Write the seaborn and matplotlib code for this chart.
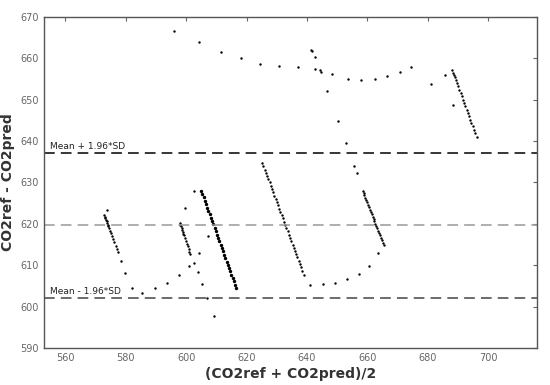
import numpy as np
import pandas as pd
import matplotlib
matplotlib.use("Agg")
import matplotlib.pyplot as plt
import seaborn as sns

# Bland-Altman style data
# scattered single points
scatter_x = [596.0, 604.4, 611.6, 618.2, 624.6, 630.7, 636.9, 641.4, 641.6, 642.5,
             642.8, 644.2, 644.5, 648.2, 653.4, 658.0, 662.4, 666.6, 670.6, 674.5,
             681.1, 685.8, 687.9, 688.2, 646.6, 650.2, 652.8, 655.6, 656.6, 663.4,
             660.6, 657.1, 653.3, 649.4, 645.3, 640.9, 602.5, 599.8, 607.3, 604.4,
             602.6, 601.1, 603.8, 605.1, 606.9, 609.1, 597.7, 593.8, 589.7, 585.5,
             582.0, 579.9, 578.5, 574.0]
scatter_y = [666.6, 664.0, 661.5, 660.0, 658.7, 658.2, 657.8, 662.1, 661.7, 660.4,
             657.5, 657.1, 656.6, 656.3, 655.1, 654.7, 655.1, 655.8, 656.8, 658.0,
             653.9, 656.0, 657.1, 648.7, 652.2, 644.9, 639.6, 633.9, 632.2, 612.9,
             609.8, 607.8, 606.6, 605.8, 605.4, 605.3, 628.0, 623.8, 617.1, 613.0,
             610.6, 609.8, 608.3, 605.5, 602.2, 597.8, 607.6, 605.7, 604.5, 603.4,
             604.5, 608.1, 611.0, 623.3]

# the dense streaks
seg_a_x = [572.9, 573.1, 573.3, 573.5, 573.7, 573.9, 574.1, 574.3, 574.6, 574.9,
           575.2, 575.5, 575.9, 576.3, 576.8, 577.2, 577.6]
seg_a_y = [622.1, 621.7, 621.3, 620.9, 620.6, 620.2, 619.8, 619.4, 618.9, 618.3,
           617.7, 617.1, 616.4, 615.6, 614.7, 613.9, 613.1]

seg_b_x = [597.9, 598.1, 598.3, 598.5, 598.7, 598.9, 599.1, 599.3, 599.6, 599.9,
           600.2, 600.5, 600.8, 601.1, 601.4]
seg_b_y = [620.2, 619.8, 619.4, 618.9, 618.5, 618.0, 617.6, 617.2, 616.5, 615.9,
           615.2, 614.6, 613.9, 613.3, 612.7]

seg_c_x = [605.0, 605.4, 605.8, 606.2, 606.6, 607.0, 607.4, 607.8, 608.2, 608.6,
           609.0, 609.4, 609.8, 610.2, 610.6, 611.0, 611.4, 611.8, 612.2, 612.6,
           613.0, 613.4, 613.8, 614.2, 614.6, 615.0, 615.4, 615.8, 616.2, 616.6]
seg_c_y = [628.0, 627.2, 626.4, 625.6, 624.8, 623.9, 623.1, 622.3, 621.5, 620.7,
           619.9, 619.1, 618.3, 617.4, 616.6, 615.8, 615.0, 614.2, 613.4, 612.6,
           611.8, 610.9, 610.1, 609.3, 608.5, 607.7, 606.9, 606.1, 605.3, 604.5]

seg_d_x = [625.2, 625.6, 626.0, 626.4, 626.8, 627.2, 627.6, 628.0, 628.4, 628.8,
           629.2, 629.6, 630.0, 630.4, 630.8, 631.2, 631.6, 632.0, 632.4, 632.8,
           633.2, 633.6, 634.0, 634.4, 634.8, 635.2, 635.6, 636.0, 636.4, 636.8,
           637.2, 637.6, 638.0, 638.4, 638.9]
seg_d_y = [634.7, 633.9, 633.1, 632.3, 631.5, 630.8, 630.0, 629.2, 628.4, 627.6,
           626.8, 626.0, 625.2, 624.5, 623.7, 622.9, 622.1, 621.3, 620.5, 619.7,
           618.9, 618.2, 617.4, 616.6, 615.8, 615.0, 614.2, 613.4, 612.7, 611.9,
           611.1, 610.3, 609.5, 608.7, 607.7]

seg_e_x = [658.4, 658.7, 659.0, 659.3, 659.6, 659.9, 660.2, 660.5, 660.8, 661.1,
           661.4, 661.7, 662.0, 662.3, 662.6, 662.9, 663.2, 663.5, 663.8, 664.1,
           664.4, 664.7, 665.0, 665.3]
seg_e_y = [628.0, 627.4, 626.9, 626.3, 625.7, 625.2, 624.6, 624.0, 623.4, 622.9,
           622.3, 621.7, 621.2, 620.6, 620.0, 619.5, 618.9, 618.3, 617.7, 617.2,
           616.6, 616.0, 615.5, 614.9]

seg_f_x = [688.4, 688.6, 688.9, 689.2, 689.6, 690.0, 690.4, 690.8, 691.2, 691.6,
           692.0, 692.4, 692.8, 693.2, 693.6, 694.0, 694.4, 694.8, 695.2, 695.6,
           696.1]
seg_f_y = [656.4, 656.0, 655.4, 654.8, 654.0, 653.2, 652.4, 651.6, 650.8, 650.0,
           649.2, 648.4, 647.6, 646.8, 646.0, 645.2, 644.4, 643.6, 642.8, 642.0,
           641.0]

mean_diff = 619.8
upper_loa = 637.2
lower_loa = 602.2

x_ticks = [560, 580, 600, 620, 640, 660, 680, 700]
y_ticks = [590, 600, 610, 620, 630, 640, 650, 660, 670]

# one long table for seaborn (the thick streak C goes on its own)
all_x = scatter_x + seg_a_x + seg_b_x + seg_d_x + seg_e_x + seg_f_x
all_y = scatter_y + seg_a_y + seg_b_y + seg_d_y + seg_e_y + seg_f_y
df = pd.DataFrame({'avg': all_x, 'diff': all_y})
df_c = pd.DataFrame({'avg': seg_c_x, 'diff': seg_c_y})

sns.set_theme(style='white')
plt.rcParams['font.family'] = ['DejaVu Sans']

fig = plt.figure(figsize=(5.5, 3.85), dpi=100)
ax = fig.add_axes([0.08, 0.096, 0.896, 0.86])

sns.scatterplot(data=df, x='avg', y='diff', ax=ax, color='black',
                s=3, linewidth=0, marker='o')
sns.scatterplot(data=df_c, x='avg', y='diff', ax=ax, color='black',
                s=6, linewidth=0, marker='o')

# mean and limits of agreement
ax.axhline(upper_loa, color='black', linestyle=(0, (7, 4)), linewidth=1.1)
ax.axhline(mean_diff, color='#999999', linestyle=(0, (7, 4)), linewidth=1.1)
ax.axhline(lower_loa, color='#444444', linestyle=(0, (7, 4)), linewidth=1.1)
ax.text(555, upper_loa + 0.9, 'Mean + 1.96*SD', fontsize=6.5, color='#222222')
ax.text(555, lower_loa + 0.9, 'Mean - 1.96*SD', fontsize=6.5, color='#222222')

ax.set_xlim(553, 716)
ax.set_ylim(590, 670)
ax.set_xticks(x_ticks)
ax.set_yticks(y_ticks)
ax.tick_params(direction='in', length=3, width=0.8, colors='#666666',
               labelsize=7, top=True, right=True, labeltop=False, labelright=False)
for side in ax.spines.values():
    side.set_color('#555555')
    side.set_linewidth(1.0)

ax.set_xlabel('(CO2ref + CO2pred)/2', fontsize=10, fontweight='bold',
              color='#333333', labelpad=3)
ax.set_ylabel('CO2ref - CO2pred', fontsize=10, fontweight='bold',
              color='#333333', labelpad=4)

fig.savefig('out.png', dpi=100)
